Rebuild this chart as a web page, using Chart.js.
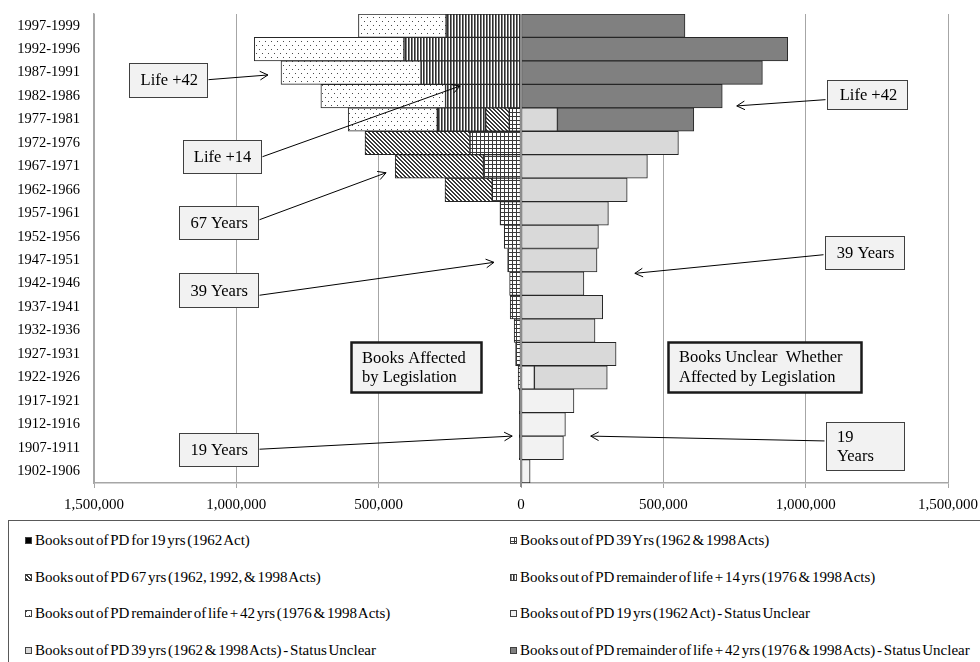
<!DOCTYPE html>
<html><head><meta charset="utf-8">
<script src="https://cdn.jsdelivr.net/npm/chart.js@4.4.1/dist/chart.umd.min.js"></script>
<style>
html,body{margin:0;padding:0;background:#fff;width:980px;height:662px;overflow:hidden;}
#wrap{position:absolute;left:0;top:0;width:980px;height:515px;}
#legend{position:absolute;left:8px;top:520px;width:990px;height:170px;border:1px solid #595959;box-sizing:border-box;font-family:"Liberation Serif","Times New Roman",serif;font-size:15px;color:#000;word-spacing:-2px;}
.item{position:absolute;display:flex;align-items:center;white-space:nowrap;height:16px;line-height:16px;}
.item canvas{width:7px;height:7px;margin-right:3px;display:block;}
</style></head><body>
<div id="wrap"><canvas id="c"></canvas></div>
<div id="legend"></div>
<script>
// ---------- data ----------
const categories = ['1997-1999','1992-1996','1987-1991','1982-1986','1977-1981','1972-1976','1967-1971','1962-1966','1957-1961','1952-1956','1947-1951','1942-1946','1937-1941','1932-1936','1927-1931','1922-1926','1917-1921','1912-1916','1907-1911','1902-1906'];
// books affected by legislation (drawn to the left)
const out19     = [0,0,0,0,0,0,0,0,0,0,0,0,0,0,0,0,6000,6000,6000,0];
const out39     = [0,0,0,0,41000,179000,132000,101000,74000,59000,47000,40000,38000,24000,19000,10000,0,0,0,0];
const out67     = [0,0,0,0,83000,369000,310000,166000,0,0,0,0,0,0,0,0,0,0,0,0];
const outLife14 = [263000,411000,351000,265000,170000,0,0,0,0,0,0,0,0,0,0,0,0,0,0,0];
const outLife42 = [308000,526000,492000,438000,313000,0,0,0,0,0,0,0,0,0,0,0,0,0,0,0];
// books unclear whether affected (drawn to the right)
const unclear19     = [0,0,0,0,0,0,0,0,0,0,0,0,0,0,0,47000,186000,156000,149000,32000];
const unclear39     = [0,0,0,0,128000,553000,444000,373000,307000,272000,267000,221000,287000,260000,334000,256000,0,0,0,0];
const unclearLife42 = [576000,937000,848000,707000,479000,0,0,0,0,0,0,0,0,0,0,0,0,0,0,0];
const xTicks = [-1500000,-1000000,-500000,0,500000,1000000,1500000];
const seriesLabels = [
  'Books out of PD for 19 yrs (1962 Act)',
  'Books out of PD 39 Yrs (1962 & 1998 Acts)',
  'Books out of PD 67 yrs (1962, 1992, & 1998 Acts)',
  'Books out of PD remainder of life + 14 yrs (1976 & 1998 Acts)',
  'Books out of PD remainder of life + 42 yrs (1976 & 1998 Acts)',
  'Books out of PD 19 yrs (1962 Act) - Status Unclear',
  'Books out of PD 39 yrs (1962 & 1998 Acts) - Status Unclear',
  'Books out of PD remainder of life + 42 yrs (1976 & 1998 Acts) - Status Unclear'
];

// ---------- annotations (anchored in data coordinates) ----------
const notes = [
  {lines:['Life +42'], x:-1239000, y:2.30, w:78, h:34, tipX:-889000, tipY:2.10, sdy:0},
  {lines:['Life +14'], x:-1052000, y:5.585, w:78, h:33, tipX:-214000, tipY:2.57, sdy:0},
  {lines:['67 Years'], x:-1064000, y:8.40, w:79, h:33, tipX:-474000, tipY:6.27, sdy:-3},
  {lines:['39 Years'], x:-1064000, y:11.28, w:79, h:34, tipX:-95000, tipY:10.09, sdy:5},
  {lines:['19 Years'], x:-1064000, y:18.06, w:79, h:33, tipX:-31000, tipY:17.5, sdy:0},
  {lines:['Books Affected','by Legislation'], x:-369000, y:14.55, w:130, h:50, bold:true, left:true},
  {lines:['Books Unclear  Whether','Affected by Legislation'], x:854000, y:14.54, w:193, h:50, bold:true, left:true},
  {lines:['Life +42'], x:1217000, y:2.94, w:80, h:29, tipX:758000, tipY:3.42, sdy:5},
  {lines:['39 Years'], x:1207000, y:9.68, w:79, h:33, tipX:400000, tipY:10.56, sdy:2},
  {lines:['19','Years'], x:1209000, y:17.92, w:78, h:48, tipX:245000, tipY:17.5, sdy:-5, left:true}
];

// ---------- patterns ----------
function tile(w,h,fn){const c=document.createElement('canvas');c.width=w;c.height=h;const g=c.getContext('2d');g.fillStyle='#fff';g.fillRect(0,0,w,h);fn(g);return c;}
const tiles = {
  grid: tile(4,4,g=>{g.fillStyle='#3a3a3a';g.fillRect(0,0,4,1);g.fillRect(0,0,1,4);}),
  diag: tile(4,4,g=>{g.fillStyle='#3a3a3a';for(let y=0;y<4;y++)for(let x=0;x<4;x++){const d=((x-y)%4+4)%4;if(d===0||d===1)g.fillRect(x,y,1,1);}}),
  vert: tile(3,1,g=>{g.fillStyle='#2e2e2e';g.fillRect(0,0,1,1);g.fillStyle='#808080';g.fillRect(1,0,1,1);}),
  dots: tile(6,8,g=>{g.fillStyle='#4a4a4a';g.fillRect(1,1,1,1);g.fillRect(4,5,1,1);})
};
const mainCtx = document.getElementById('c').getContext('2d');
const fills = [
  '#000000',
  mainCtx.createPattern(tiles.grid,'repeat'),
  mainCtx.createPattern(tiles.diag,'repeat'),
  mainCtx.createPattern(tiles.vert,'repeat'),
  mainCtx.createPattern(tiles.dots,'repeat'),
  '#f2f2f2','#d9d9d9','#808080'
];
const swatchKinds = [null,'grid','diag','vert','dots',null,null,null];

const leftSeries = [out19,out39,out67,outLife14,outLife42];
const rightSeries = [unclear19,unclear39,unclearLife42];
const allSeries = leftSeries.map(a=>a.map(v=>v?-v:null)).concat(rightSeries.map(a=>a.map(v=>v?v:null)));

const datasets = allSeries.map((d,i)=>({
  label: seriesLabels[i],
  data: d,
  backgroundColor: fills[i],
  borderColor: '#262626',
  borderWidth: 1,
  borderSkipped: false,
  categoryPercentage: 1,
  barPercentage: 1
}));

Chart.defaults.font.family = '"Liberation Serif","Times New Roman",serif';
Chart.defaults.color = '#000';

function arrow(ctx,sx,sy,tx,ty){
  ctx.beginPath();ctx.moveTo(sx,sy);ctx.lineTo(tx,ty);ctx.stroke();
  const a=Math.atan2(ty-sy,tx-sx),L=9,w=0.5;
  ctx.beginPath();
  ctx.moveTo(tx-L*Math.cos(a-w),ty-L*Math.sin(a-w));
  ctx.lineTo(tx,ty);
  ctx.lineTo(tx-L*Math.cos(a+w),ty-L*Math.sin(a+w));
  ctx.stroke();
}

const overlay = {
  id:'overlay',
  afterDatasetsDraw(chart){
    const {ctx,chartArea,scales:{x,y}} = chart;
    ctx.save();
    const x0 = Math.round(x.getPixelForValue(0));
    ctx.strokeStyle='#8c8c8c';ctx.lineWidth=2;
    ctx.beginPath();ctx.moveTo(x0,chartArea.top);ctx.lineTo(x0,chartArea.bottom+4);ctx.stroke();
    ctx.font='16.5px "Liberation Serif","Times New Roman",serif';
    ctx.textBaseline='middle';
    notes.forEach(n=>{
      const cx=x.getPixelForValue(n.x), cy=y.getPixelForValue(n.y);
      const l=Math.round(cx-n.w/2)+0.5, t=Math.round(cy-n.h/2)+0.5;
      if(n.tipX!==undefined){
        const tx=x.getPixelForValue(n.tipX), ty=y.getPixelForValue(n.tipY);
        const sx = tx>cx ? l+n.w+1 : l-2;
        ctx.strokeStyle='#000';ctx.lineWidth=1;
        arrow(ctx,sx,cy+n.sdy,tx,ty);
      }
      ctx.fillStyle='#f2f2f2';
      ctx.fillRect(l,t,n.w,n.h);
      ctx.strokeStyle=n.bold?'#1a1a1a':'#404040';
      ctx.lineWidth=n.bold?2.5:1;
      ctx.strokeRect(l,t,n.w,n.h);
      ctx.fillStyle='#000';
      const lh=19.4, y0=cy-(n.lines.length-1)*lh/2+1;
      n.lines.forEach((s,k)=>{
        if(n.left){ctx.textAlign='left';ctx.fillText(s,l+10.5,y0+k*lh);}
        else{ctx.textAlign='center';ctx.fillText(s,cx+1,y0+k*lh);}
      });
    });
    ctx.restore();
  }
};

const chart = new Chart(document.getElementById('c'),{
  type:'bar',
  data:{labels:categories,datasets},
  options:{
    indexAxis:'y',
    responsive:true,
    maintainAspectRatio:false,
    animation:false,
    layout:{padding:{top:14,right:32,left:0,bottom:0}},
    plugins:{legend:{display:false},tooltip:{enabled:false}},
    scales:{
      x:{
        stacked:true,
        min:-1500000,max:1500000,
        afterBuildTicks:s=>{s.ticks=xTicks.map(v=>({value:v}));},
        afterFit:s=>{s.height=32;s.paddingLeft=0;s.paddingRight=0;},
        grid:{color:'#a6a6a6',lineWidth:1,tickLength:5,drawTicks:true},
        border:{display:true,color:'#a6a6a6',width:1.5},
        ticks:{padding:8,font:{size:15},color:'#000',maxRotation:0,autoSkip:false,
          callback:v=>Math.abs(v).toLocaleString('en-US')}
      },
      y:{
        stacked:true,
        afterFit:s=>{s.width=94;s.paddingTop=0;s.paddingBottom=0;},
        grid:{display:true,drawOnChartArea:false,drawTicks:false},
        border:{display:true,color:'#a6a6a6',width:1.5},
        ticks:{padding:14,font:{size:14.5},color:'#000',autoSkip:false}
      }
    }
  },
  plugins:[overlay]
});

// ---------- HTML legend from the chart's datasets ----------
const legend=document.getElementById('legend');
const rowCenters=[19,56,92,129];
chart.data.datasets.forEach((ds,i)=>{
  const col=i%2,row=Math.floor(i/2);
  const it=document.createElement('div');it.className='item';
  it.style.left=(col?501:16)+'px';
  it.style.top=(rowCenters[row]-8)+'px';
  const sw=document.createElement('canvas');sw.width=7;sw.height=7;
  const g=sw.getContext('2d');
  g.fillStyle=swatchKinds[i]?g.createPattern(tiles[swatchKinds[i]],'repeat'):ds.backgroundColor;
  g.fillRect(0,0,7,7);
  g.strokeStyle='#404040';g.lineWidth=1;g.strokeRect(0.5,0.5,6,6);
  it.appendChild(sw);
  const sp=document.createElement('span');sp.textContent=ds.label;it.appendChild(sp);
  legend.appendChild(it);
});
</script>
</body></html>
